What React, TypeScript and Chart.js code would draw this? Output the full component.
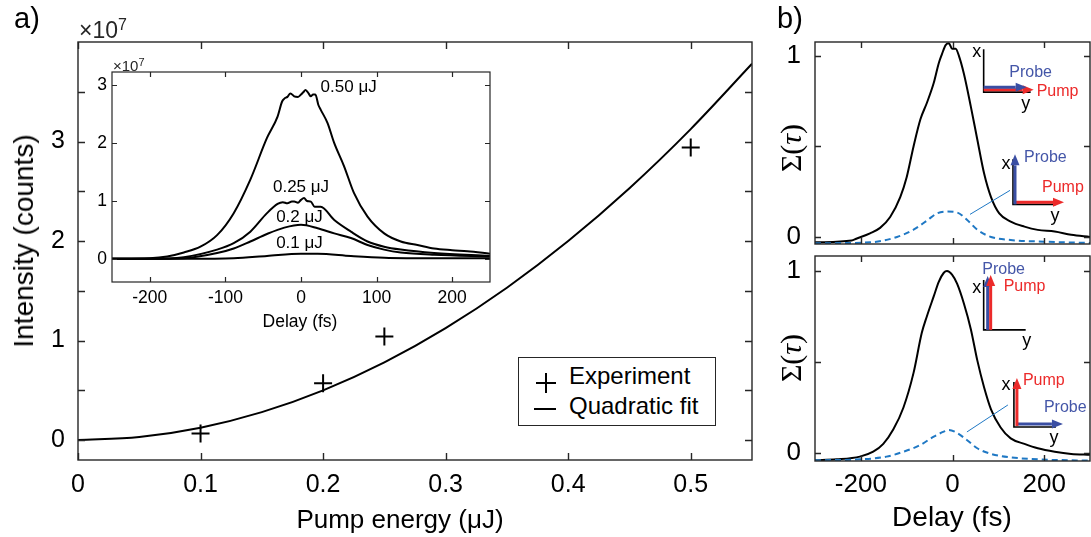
import React, { useEffect, useRef } from "react";
import { Chart, registerables } from "chart.js";
Chart.register(...registerables);

const FONT = "'Liberation Sans', Arial, Helvetica, sans-serif";
const INK = "#262626";
const RED = "#ec2a2a";
const BLUE_TXT = "#4456a8";
const BLUE_ARROW = "#3a4ea3";
const BLUE_DASH = "#1f78c4";

// ---------- Panel a: main ----------
const pumpEnergy = [0.1, 0.2, 0.25, 0.5];
const intensity = [0.067, 0.57, 1.04, 2.94]; // x 1e7 counts
const fitEnergy = [0, 0.05, 0.1, 0.15, 0.2, 0.25, 0.3, 0.35, 0.4, 0.45, 0.5, 0.55];
const fitIntensity = [0, 0.031, 0.125, 0.281, 0.5, 0.781, 1.125, 1.531, 2.0, 2.531, 3.125, 3.781];
const mainXTicks = [0, 0.1, 0.2, 0.3, 0.4, 0.5];
const mainYTicks = [0, 0.5, 1, 1.5, 2, 2.5, 3, 3.5];

// ---------- Panel a: inset ----------
const delay050 = [-250, -200, -177, -155, -133, -111, -89, -67, -45, -31, -25, -22, -18, -14, -9, -4, 0, 3, 6, 10, 13, 16, 19, 23, 26, 35, 44, 57, 70, 88, 110, 132, 154, 176, 200, 220, 250];
const sig050 = [0.0, 0.01, 0.04, 0.11, 0.21, 0.41, 0.79, 1.37, 2.09, 2.46, 2.72, 2.77, 2.8, 2.86, 2.81, 2.8, 2.84, 2.88, 2.92, 2.86, 2.81, 2.84, 2.84, 2.66, 2.58, 2.35, 2.0, 1.6, 1.14, 0.73, 0.44, 0.3, 0.24, 0.18, 0.15, 0.13, 0.09];
const delay025 = [-250, -200, -155, -111, -89, -67, -45, -31, -24, -18, -12, -9, -4, 0, 4, 8, 13, 18, 26, 44, 66, 88, 110, 132, 176, 250];
const sig025 = [0, 0.0, 0.03, 0.16, 0.27, 0.47, 0.79, 0.95, 0.98, 0.96, 0.99, 0.99, 0.97, 1.02, 1.05, 1.0, 0.99, 0.9, 0.9, 0.67, 0.47, 0.3, 0.21, 0.16, 0.1, 0.05];
const delay020 = [-250, -200, -155, -111, -89, -67, -45, -22, 0, 22, 44, 66, 88, 110, 132, 176, 250];
const sig020 = [0, 0.0, 0.01, 0.1, 0.18, 0.3, 0.43, 0.54, 0.59, 0.53, 0.44, 0.36, 0.24, 0.16, 0.11, 0.07, 0.04];
const delay010 = [-250, -150, -89, -45, 0, 22, 66, 110, 180, 250];
const sig010 = [0, 0.0, 0.01, 0.05, 0.09, 0.09, 0.05, 0.02, 0.01, 0.01];
const insetXTicks = [-200, -100, 0, 100, 200];
const insetYTicks = [0, 1, 2, 3];
const insetLabels = ["0.50 μJ", "0.25 μJ", "0.2 μJ", "0.1 μJ"];
const insetLabelX = [63, 0, -2, -2];
const insetLabelY = [2.97, 1.24, 0.72, 0.27];

// ---------- Panel b ----------
const topDelay = [-300, -220, -210, -180, -158, -136, -114, -100, -85, -70, -56, -41, -30, -23, -15, -8, -1, 7, 14, 25, 40, 54, 69, 84, 102, 127, 157, 186, 223, 259, 300];
const topTotal = [-0.03, -0.02, -0.01, 0.02, 0.05, 0.11, 0.22, 0.33, 0.5, 0.65, 0.74, 0.85, 0.96, 1.01, 1.06, 1.07, 1.04, 1.04, 1.0, 0.9, 0.72, 0.54, 0.35, 0.22, 0.13, 0.085, 0.057, 0.039, 0.03, 0.012, 0.0];
const topDashDelay = [-300, -180, -121, -85, -56, -34, -12, 10, 32, 54, 84, 127, 186, 300];
const topDash = [-0.035, -0.03, 0.0, 0.04, 0.09, 0.13, 0.14, 0.135, 0.094, 0.04, 0.0, -0.017, -0.025, -0.033];
const botDelay = [-300, -253, -202, -173, -151, -129, -107, -85, -67, -56, -41, -30, -19, -12, -1, 10, 25, 40, 54, 69, 84, 105, 127, 157, 186, 223, 259, 300];
const botTotal = [-0.04, -0.035, -0.02, 0.007, 0.05, 0.13, 0.25, 0.44, 0.66, 0.75, 0.86, 0.94, 0.99, 1.0, 0.98, 0.93, 0.82, 0.68, 0.51, 0.36, 0.24, 0.14, 0.08, 0.05, 0.026, 0.007, -0.005, -0.01];
const botDashDelay = [-300, -202, -144, -107, -70, -41, -19, -8, 10, 32, 54, 84, 127, 186, 300];
const botDash = [-0.04, -0.035, -0.02, 0.007, 0.044, 0.09, 0.117, 0.126, 0.11, 0.07, 0.026, -0.005, -0.024, -0.035, -0.042];
const bXTicks = [-200, 0, 200];
const bYTicks = [0, 0.5, 1];

const pts = (xs: number[], ys: number[]) => xs.map((x, i) => ({ x, y: ys[i] }));

// box + inward ticks on four sides
const matlabAxes = {
  id: "matlabAxes",
  afterDatasetsDraw(chart: any, _a: any, opts: any) {
    const { ctx, chartArea: ca, scales } = chart;
    const len = opts.len ?? 7;
    ctx.save();
    ctx.strokeStyle = INK;
    ctx.lineWidth = opts.lw ?? 1.4;
    ctx.beginPath();
    (opts.xTicks || []).forEach((v: number) => {
      const px = Math.round(scales.x.getPixelForValue(v)) + 0.5;
      ctx.moveTo(px, ca.bottom);
      ctx.lineTo(px, ca.bottom - len);
      ctx.moveTo(px, ca.top);
      ctx.lineTo(px, ca.top + len);
    });
    (opts.yTicks || []).forEach((v: number) => {
      const py = Math.round(scales.y.getPixelForValue(v)) + 0.5;
      ctx.moveTo(ca.left, py);
      ctx.lineTo(ca.left + len, py);
      ctx.moveTo(ca.right, py);
      ctx.lineTo(ca.right - len, py);
    });
    ctx.stroke();
    ctx.strokeRect(ca.left, ca.top, ca.right - ca.left, ca.bottom - ca.top);
    ctx.restore();
  },
};

const whiteArea = {
  id: "whiteArea",
  beforeDraw(chart: any, _a: any, opts: any) {
    if (!opts.on) return;
    const { ctx, chartArea: ca } = chart;
    ctx.save();
    ctx.fillStyle = "#ffffff";
    ctx.fillRect(ca.left, ca.top, ca.right - ca.left, ca.bottom - ca.top);
    ctx.restore();
  },
};

const curveLabels = {
  id: "curveLabels",
  afterDatasetsDraw(chart: any, _a: any, opts: any) {
    if (!opts.texts) return;
    const { ctx, scales } = chart;
    ctx.save();
    ctx.fillStyle = "#000";
    ctx.font = `17px ${FONT}`;
    ctx.textAlign = "center";
    ctx.textBaseline = "middle";
    opts.texts.forEach((t: string, i: number) => {
      ctx.fillText(t, scales.x.getPixelForValue(opts.xs[i]), scales.y.getPixelForValue(opts.ys[i]));
    });
    ctx.restore();
  },
};

function arrow(ctx: any, x0: number, y0: number, x1: number, y1: number, color: string) {
  const ang = Math.atan2(y1 - y0, x1 - x0);
  const hl = 11, hw = 4.5;
  const bx = x1 - hl * Math.cos(ang), by = y1 - hl * Math.sin(ang);
  ctx.strokeStyle = color;
  ctx.fillStyle = color;
  ctx.lineWidth = 3;
  ctx.beginPath();
  ctx.moveTo(x0, y0);
  ctx.lineTo(bx, by);
  ctx.stroke();
  ctx.beginPath();
  ctx.moveTo(x1, y1);
  ctx.lineTo(bx + hw * Math.sin(ang), by - hw * Math.cos(ang));
  ctx.lineTo(bx - hw * Math.sin(ang), by + hw * Math.cos(ang));
  ctx.closePath();
  ctx.fill();
}

function txt(ctx: any, s: string, x: number, y: number, color: string, size: number, align: string) {
  ctx.fillStyle = color;
  ctx.font = `${size}px ${FONT}`;
  ctx.textAlign = align;
  ctx.textBaseline = "middle";
  ctx.fillText(s, x, y);
}

function axesL(ctx: any, ox: number, oy: number, h: number, w: number) {
  ctx.strokeStyle = "#000";
  ctx.lineWidth = 1.6;
  ctx.beginPath();
  ctx.moveTo(ox, oy - h);
  ctx.lineTo(ox, oy);
  ctx.lineTo(ox + w, oy);
  ctx.stroke();
}

const diagrams = {
  id: "diagrams",
  afterDatasetsDraw(chart: any, _a: any, opts: any) {
    if (!opts.kind) return;
    const { ctx, scales } = chart;
    const P = (x: number, y: number) => [scales.x.getPixelForValue(x), scales.y.getPixelForValue(y)];
    ctx.save();
    if (opts.kind === "top") {
      let [ox, oy] = P(68, 0.8);
      axesL(ctx, ox, oy, 43, 47);
      arrow(ctx, ox, oy - 2.5, ox + 50, oy - 2.5, RED);
      arrow(ctx, ox, oy - 5, ox + 43, oy - 5, BLUE_ARROW);
      txt(ctx, "x", ox - 7, oy - 40, "#000", 18, "center");
      txt(ctx, "y", ox + 42, oy + 12, "#000", 18, "center");
      txt(ctx, "Probe", ox + 47, oy - 20, BLUE_TXT, 16, "center");
      txt(ctx, "Pump", ox + 53, oy - 1, RED, 16, "left");
      [ox, oy] = P(132, 0.18);
      axesL(ctx, ox, oy, 45, 43);
      arrow(ctx, ox + 2, oy - 2, ox + 51, oy - 2, RED);
      arrow(ctx, ox + 2, oy, ox + 2, oy - 50, BLUE_ARROW);
      txt(ctx, "x", ox - 7, oy - 40, "#000", 18, "center");
      txt(ctx, "y", ox + 42, oy + 12, "#000", 18, "center");
      txt(ctx, "Probe", ox + 11, oy - 47, BLUE_TXT, 16, "left");
      txt(ctx, "Pump", ox + 29, oy - 17, RED, 16, "left");
      ctx.strokeStyle = BLUE_DASH;
      ctx.lineWidth = 1;
      ctx.beginPath();
      ctx.moveTo(ox - 3, oy - 14);
      ctx.lineTo(ox - 43, oy + 10);
      ctx.stroke();
    } else {
      let [ox, oy] = P(68, 0.676);
      axesL(ctx, ox, oy, 50, 42);
      arrow(ctx, ox + 4, oy, ox + 4, oy - 54, BLUE_ARROW);
      arrow(ctx, ox + 7, oy, ox + 7, oy - 55, RED);
      txt(ctx, "x", ox - 7, oy - 42, "#000", 18, "center");
      txt(ctx, "y", ox + 43, oy + 11, "#000", 18, "center");
      txt(ctx, "Probe", ox + 20, oy - 60, BLUE_TXT, 16, "center");
      txt(ctx, "Pump", ox + 20, oy - 43, RED, 16, "left");
      [ox, oy] = P(134, 0.143);
      axesL(ctx, ox, oy, 45, 42);
      arrow(ctx, ox + 3, oy - 3, ox + 49, oy - 3, BLUE_ARROW);
      arrow(ctx, ox + 3, oy - 1, ox + 3, oy - 49, RED);
      txt(ctx, "x", ox - 8, oy - 42, "#000", 18, "center");
      txt(ctx, "y", ox + 40, oy + 11, "#000", 18, "center");
      txt(ctx, "Pump", ox + 9, oy - 46, RED, 16, "left");
      txt(ctx, "Probe", ox + 30, oy - 19, BLUE_TXT, 16, "left");
      ctx.strokeStyle = BLUE_DASH;
      ctx.lineWidth = 1;
      ctx.beginPath();
      ctx.moveTo(ox - 6, oy - 22);
      ctx.lineTo(ox - 47, oy + 5);
      ctx.stroke();
    }
    ctx.restore();
  },
};

Chart.register(matlabAxes, whiteArea, curveLabels, diagrams);

type Frame = { w: number; h: number; l: number; t: number; r: number; b: number };

const zeroPad = (s: any) => {
  s.paddingTop = 0;
  s.paddingBottom = 0;
  s.paddingLeft = 0;
  s.paddingRight = 0;
};

function makeScales(f: Frame, o: any) {
  return {
    x: {
      type: "linear",
      min: o.xmin,
      max: o.xmax,
      grid: { display: false, drawTicks: false },
      border: { display: false },
      afterBuildTicks: (s: any) => { s.ticks = o.xTicks.map((v: number) => ({ value: v })); },
      afterFit: (s: any) => { s.height = f.h - f.b; zeroPad(s); },
      ticks: {
        display: o.xLabels,
        padding: o.xPad,
        color: "#000",
        font: { family: FONT, size: o.fs },
        maxRotation: 0,
        autoSkip: false,
        callback: o.xFmt,
      },
    },
    y: {
      type: "linear",
      min: o.ymin,
      max: o.ymax,
      grid: { display: false, drawTicks: false },
      border: { display: false },
      afterBuildTicks: (s: any) => { s.ticks = o.yTicks.map((v: number) => ({ value: v })); },
      afterFit: (s: any) => { s.width = f.l; zeroPad(s); },
      ticks: {
        padding: o.yPad,
        color: "#000",
        font: { family: FONT, size: o.fs },
        autoSkip: false,
        callback: o.yFmt,
      },
    },
  };
}

function useChart(ref: any, f: Frame, datasets: any[], scaleOpts: any, plugins: any) {
  useEffect(() => {
    const chart = new Chart(ref.current, {
      type: "scatter",
      data: { datasets },
      options: {
        animation: false,
        responsive: false,
        maintainAspectRatio: false,
        layout: { padding: { left: 0, top: f.t, right: f.w - f.r, bottom: 0 } },
        scales: makeScales(f, scaleOpts) as any,
        plugins: {
          legend: { display: false },
          tooltip: { enabled: false },
          ...plugins,
        },
      } as any,
    });
    return () => chart.destroy();
  }, []);
}

const lineDs = (data: any[], color: string, width: number, dash?: number[]) => ({
  type: "line",
  data,
  borderColor: color,
  borderWidth: width,
  borderDash: dash || [],
  pointRadius: 0,
  showLine: true,
  fill: false,
  cubicInterpolationMode: "monotone",
});

const intFmt = (v: number) => (Math.abs(v - Math.round(v)) < 1e-9 ? String(Math.round(v)) : "");

const MAIN: Frame = { w: 770, h: 537, l: 78, t: 42, r: 752, b: 460 };
const INSET: Frame = { w: 420, h: 280, l: 27, t: 17, r: 405, b: 227 }; // canvas at (85,55)
const BTOP: Frame = { w: 331, h: 250, l: 55, t: 42, r: 330, b: 244 }; // canvas at (760,0)
const BBOT: Frame = { w: 331, h: 287, l: 55, t: 6, r: 330, b: 211 }; // canvas at (760,250)

function MainChart() {
  const ref = useRef<HTMLCanvasElement>(null);
  useChart(
    ref,
    MAIN,
    [
      lineDs(pts(fitEnergy, fitIntensity), "#000", 2),
      {
        type: "scatter",
        data: pts(pumpEnergy, intensity),
        pointStyle: "cross",
        pointRadius: 9,
        pointBorderWidth: 2,
        borderColor: "#000",
        backgroundColor: "#000",
      },
    ],
    {
      xmin: 0, xmax: 0.55, ymin: -0.2, ymax: 4.0,
      xTicks: mainXTicks, yTicks: mainYTicks, xLabels: true,
      xPad: 10, yPad: 13, fs: 25,
      xFmt: (v: number) => (v === 0 ? "0" : v.toFixed(1)),
      yFmt: intFmt,
    },
    { matlabAxes: { xTicks: mainXTicks, yTicks: mainYTicks, len: 7 } }
  );
  return <canvas ref={ref} width={MAIN.w} height={MAIN.h} style={{ position: "absolute", left: 0, top: 0 }} />;
}

function InsetChart() {
  const ref = useRef<HTMLCanvasElement>(null);
  useChart(
    ref,
    INSET,
    [
      lineDs(pts(delay050, sig050), "#000", 2),
      lineDs(pts(delay025, sig025), "#000", 2),
      lineDs(pts(delay020, sig020), "#000", 2),
      lineDs(pts(delay010, sig010), "#000", 2),
    ],
    {
      xmin: -250, xmax: 250, ymin: -0.4, ymax: 3.23,
      xTicks: insetXTicks, yTicks: insetYTicks, xLabels: true,
      xPad: 6, yPad: 5, fs: 17.5,
      xFmt: (v: number) => String(v),
      yFmt: intFmt,
    },
    {
      whiteArea: { on: true },
      matlabAxes: { xTicks: insetXTicks, yTicks: insetYTicks, len: 5, lw: 1.2 },
      curveLabels: { texts: insetLabels, xs: insetLabelX, ys: insetLabelY },
    }
  );
  return <canvas ref={ref} width={INSET.w} height={INSET.h} style={{ position: "absolute", left: 85, top: 55 }} />;
}

function BChart({ frame, top, which }: { frame: Frame; top: number; which: string }) {
  const ref = useRef<HTMLCanvasElement>(null);
  const isTop = which === "top";
  useChart(
    ref,
    frame,
    [
      lineDs(pts(isTop ? topDashDelay : botDashDelay, isTop ? topDash : botDash), BLUE_DASH, 2, [6, 4]),
      lineDs(pts(isTop ? topDelay : botDelay, isTop ? topTotal : botTotal), "#000", 2),
    ],
    {
      xmin: -300, xmax: 300,
      ymin: isTop ? -0.039 : -0.044, ymax: isTop ? 1.077 : 1.082,
      xTicks: bXTicks, yTicks: bYTicks, xLabels: !isTop,
      xPad: 8, yPad: 14, fs: 26,
      xFmt: (v: number) => String(v),
      yFmt: intFmt,
    },
    {
      matlabAxes: { xTicks: bXTicks, yTicks: bYTicks, len: 6 },
      diagrams: { kind: which },
    }
  );
  return <canvas ref={ref} width={frame.w} height={frame.h} style={{ position: "absolute", left: 760, top }} />;
}

const T = (s: React.CSSProperties): React.CSSProperties => ({
  position: "absolute",
  fontFamily: FONT,
  color: "#000",
  whiteSpace: "nowrap",
  lineHeight: 1,
  ...s,
});

export default function App() {
  return (
    <div style={{ position: "fixed", left: 0, top: 0, width: 1091, height: 537, background: "#fff", overflow: "hidden" }}>
      <MainChart />
      <InsetChart />
      <BChart frame={BTOP} top={0} which="top" />
      <BChart frame={BBOT} top={250} which="bottom" />

      <div style={T({ left: 14, top: 4, fontSize: 29 })}>a)</div>
      <div style={T({ left: 777, top: 4, fontSize: 29 })}>b)</div>
      <div style={T({ left: 79, top: 17, fontSize: 23, color: INK })}>
        ×10<sup style={{ fontSize: 16, verticalAlign: "8px" }}>7</sup>
      </div>
      <div style={T({ left: 113, top: 57, fontSize: 15, color: INK })}>
        ×10<sup style={{ fontSize: 11, verticalAlign: "5px" }}>7</sup>
      </div>
      <div style={T({ left: 24, top: 241, fontSize: 28, transform: "translate(-50%,-50%) rotate(-90deg)" })}>
        Intensity (counts)
      </div>
      <div style={T({ left: 400, top: 519, fontSize: 26, transform: "translate(-50%,-50%)" })}>Pump energy (μJ)</div>
      <div style={T({ left: 300, top: 322, fontSize: 17.5, transform: "translate(-50%,-50%)" })}>Delay (fs)</div>
      <div style={T({ left: 952, top: 517, fontSize: 28, transform: "translate(-50%,-50%)" })}>Delay (fs)</div>
      {[148, 358].map((cy) => (
        <div
          key={cy}
          style={T({
            left: 791,
            top: cy,
            fontSize: 30,
            fontFamily: "'Liberation Serif', 'DejaVu Serif', serif",
            transform: "translate(-50%,-50%) rotate(-90deg)",
          })}
        >
          Σ(<i>τ</i>)
        </div>
      ))}

      {/* legend */}
      <div style={{ position: "absolute", left: 518, top: 357, width: 196, height: 67, border: `1.3px solid ${INK}`, background: "#fff" }}>
        <div style={{ position: "absolute", left: 17, top: 24, width: 20, height: 2, background: "#000" }} />
        <div style={{ position: "absolute", left: 26, top: 15, width: 2, height: 20, background: "#000" }} />
        <div style={{ position: "absolute", left: 15, top: 50, width: 22, height: 2, background: "#000" }} />
        <div style={T({ left: 50, top: 6, fontSize: 24 })}>Experiment</div>
        <div style={T({ left: 50, top: 36, fontSize: 24 })}>Quadratic fit</div>
      </div>
    </div>
  );
}
